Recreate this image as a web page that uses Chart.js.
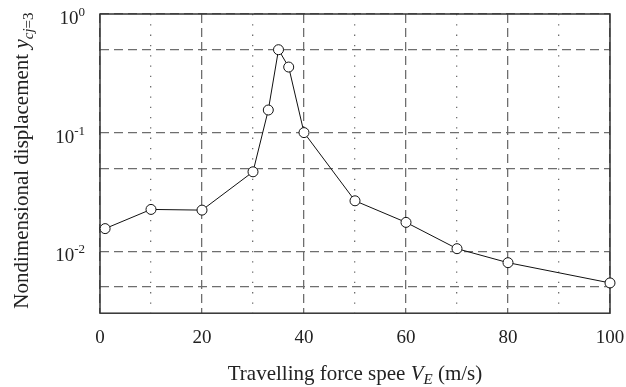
<!DOCTYPE html>
<html>
<head>
<meta charset="utf-8">
<script src="https://cdn.jsdelivr.net/npm/chart.js@4"></script>
<style>
html,body{margin:0;padding:0;background:#fff}
</style>
</head>
<body>
<canvas id="c" width="626" height="387"></canvas>
<script>
// data
const speeds = [1, 10, 20, 30, 33, 35, 37, 40, 50, 60, 70, 80, 100];
const displacements = [0.0155, 0.0225, 0.0222, 0.0467, 0.155, 0.5, 0.357, 0.1, 0.0266, 0.0175, 0.0105, 0.008, 0.0054];
const xLabels = [0, 20, 40, 60, 80, 100];
const yGridValues = [0.005, 0.01, 0.05, 0.1, 0.5, 1];
const yLabelExps = [0, -1, -2];

const SERIF = '"Liberation Serif","DejaVu Serif",serif';
const GRID = '#6e6e6e';

function drawParts(ctx, parts, cx, cy){
    let total = 0;
    parts.forEach(p => { ctx.font = p.f; p.w = ctx.measureText(p.t).width; total += p.w; });
    let x = cx - total / 2;
    parts.forEach(p => {
        ctx.font = p.f;
        ctx.fillText(p.t, x, cy + (p.dy || 0));
        x += p.w;
    });
}

const decor = {
    id: 'decor',
    beforeDatasetsDraw(chart){
        const {ctx, chartArea: a} = chart;
        ctx.save();
        ctx.setLineDash([]);
        ctx.strokeStyle = '#333';
        ctx.lineWidth = 1.5;
        ctx.strokeRect(a.left, a.top, a.right - a.left, a.bottom - a.top);
        ctx.restore();
    },
    afterDraw(chart){
        const {ctx, chartArea: a, scales: {y}} = chart;
        ctx.save();
        ctx.fillStyle = '#222';
        ctx.textAlign = 'left';
        ctx.textBaseline = 'alphabetic';
        // y tick labels 10^n
        yLabelExps.forEach(e => {
            const py = y.getPixelForValue(Math.pow(10, e));
            const sup = String(e);
            ctx.font = '13px ' + SERIF;
            const ws = ctx.measureText(sup).width;
            ctx.font = '19px ' + SERIF;
            const wb = ctx.measureText('10').width;
            const right = a.left - 15;
            ctx.fillText('10', right - ws - wb, py + 10);
            ctx.font = '13px ' + SERIF;
            ctx.fillText(sup, right - ws, py + 2);
        });
        // y title
        ctx.save();
        ctx.translate(28, (a.top + a.bottom) / 2 - 3);
        ctx.rotate(-Math.PI / 2);
        drawParts(ctx, [
            {t: 'Nondimensional displacement ', f: '21px ' + SERIF},
            {t: 'y', f: 'italic 21px ' + SERIF},
            {t: 'cj', f: 'italic 15px ' + SERIF, dy: 5},
            {t: '=3', f: '15px ' + SERIF, dy: 5}
        ], 0, 0);
        ctx.restore();
        // x title
        drawParts(ctx, [
            {t: 'Travelling force spee ', f: '21px ' + SERIF},
            {t: 'V', f: 'italic 21px ' + SERIF},
            {t: 'E', f: 'italic 15px ' + SERIF, dy: 4},
            {t: ' (m/s)', f: '21px ' + SERIF}
        ], (a.left + a.right) / 2, 380);
        ctx.restore();
    }
};

new Chart(document.getElementById('c').getContext('2d'), {
    type: 'line',
    data: {
        datasets: [{
            data: speeds.map((s, i) => ({x: s, y: displacements[i]})),
            borderColor: '#111',
            borderWidth: 1,
            backgroundColor: '#fff',
            pointBackgroundColor: '#fff',
            pointBorderColor: '#111',
            pointBorderWidth: 1,
            pointRadius: 5,
            tension: 0,
            clip: false
        }]
    },
    options: {
        responsive: false,
        animation: false,
        events: [],
        layout: {padding: {left: 100, right: 16, top: 14, bottom: 25}},
        plugins: {legend: {display: false}, tooltip: {enabled: false}},
        scales: {
            x: {
                type: 'linear',
                min: 0, max: 100,
                afterFit: s => { s.paddingLeft = 0; s.paddingRight = 0; },
                ticks: {
                    stepSize: 10,
                    padding: 13,
                    color: '#222',
                    font: {family: SERIF, size: 19},
                    callback: v => xLabels.includes(v) ? String(v) : ''
                },
                grid: {
                    drawTicks: false,
                    color: GRID,
                    lineWidth: 1.3
                },
                border: {
                    display: false,
                    dash: ctx => ctx.tick ? (ctx.tick.value % 20 === 0 ? [9, 5] : [1.3, 9]) : []
                }
            },
            y: {
                type: 'logarithmic',
                min: 0.003, max: 1,
                afterBuildTicks: scale => { scale.ticks = yGridValues.map(v => ({value: v})); },
                ticks: {display: false},
                grid: {
                    drawTicks: false,
                    color: GRID,
                    lineWidth: 1.3
                },
                border: {
                    display: false,
                    dash: [9, 5]
                }
            }
        }
    },
    plugins: [decor]
});
</script>
</body>
</html>
